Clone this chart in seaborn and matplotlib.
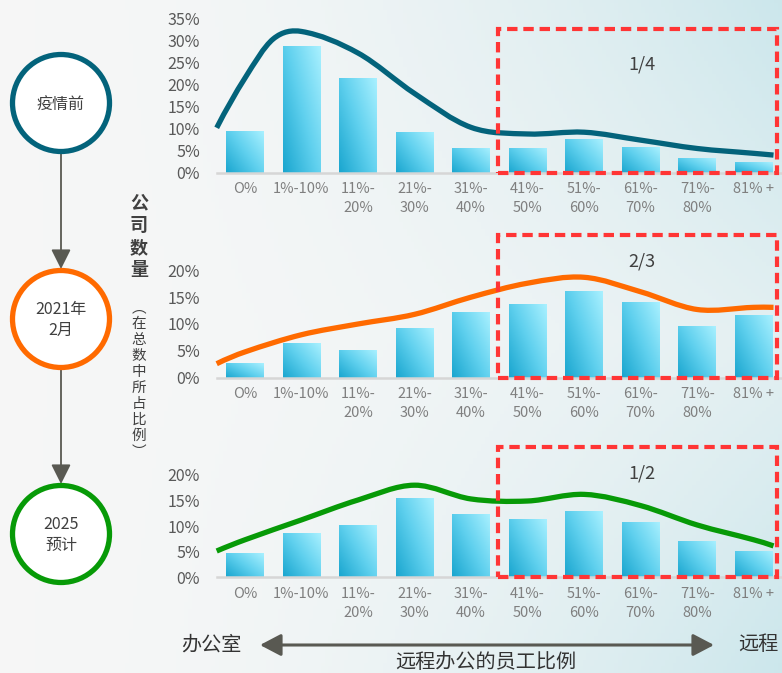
import numpy as np
import pandas as pd
import seaborn as sns
import matplotlib.pyplot as plt
from matplotlib.patches import Circle, Rectangle, PathPatch
from matplotlib.path import Path
from matplotlib.colors import LinearSegmentedColormap

# share of remote staff (x categories)
categories = ["O%", "1%-10%", "11%-\n20%", "21%-\n30%", "31%-\n40%",
              "41%-\n50%", "51%-\n60%", "61%-\n70%", "71%-\n80%", "81% +"]

# share of companies, % (bars)
pre_covid = [9.5, 28.8, 21.5, 9.2, 5.7, 5.7, 7.7, 5.8, 3.3, 2.4]
feb_2021 = [2.7, 6.5, 5.2, 9.3, 12.2, 13.7, 16.1, 14.1, 9.6, 11.7]
forecast_2025 = [4.7, 8.6, 10.2, 15.5, 12.4, 11.4, 12.9, 10.8, 7.1, 5.1]

# smoothed trend lines (x in category units)
pre_covid_x = [-0.5, 0, 0.5, 1, 2, 3, 4, 5, 6, 7, 8, 9, 9.35]
pre_covid_trend = [10.2, 21.5, 30.4, 32.1, 27.2, 18.0, 10.3, 8.8, 9.2, 7.4, 5.5, 4.4, 4.0]
curve_x = [-0.5, 0, 1, 2, 3, 4, 5, 6, 7, 8, 9, 9.35]
feb_2021_trend = [2.6, 4.8, 8.0, 10.0, 11.8, 15.0, 17.6, 18.7, 16.0, 12.7, 13.1, 13.1]
forecast_2025_trend = [5.1, 7.3, 11.2, 15.1, 18.0, 15.3, 14.9, 16.2, 14.0, 10.2, 7.3, 6.1]

box_labels = ["1/4", "2/3", "1/2"]
stage_labels = ["疫情前", "2021年\n2月", "2025\n预计"]

TEAL, ORANGE, GREEN = "#03637b", "#ff6a00", "#079a07"

sns.set_style("white")
plt.rcParams["font.family"] = ["Noto Sans CJK SC", "DejaVu Sans"]

fig = plt.figure(figsize=(7.82, 6.73), dpi=100)

# background
bg = fig.add_axes([0, 0, 1, 1])
xx, yy = np.meshgrid(np.linspace(0, 1, 200), np.linspace(0, 1, 200))
w = xx ** 2 * (0.45 + 0.55 * np.abs(yy - 0.5) * 2)
base = np.array([0.965, 0.968, 0.968])
tint = np.array([0.80, 0.905, 0.925])
img = base * (1 - w[..., None]) + tint * w[..., None]
bg.imshow(img, extent=[0, 782, 673, 0], aspect="auto", zorder=0)
bg.set_xlim(0, 782)
bg.set_ylim(673, 0)
bg.axis("off")

bar_cmap = LinearSegmentedColormap.from_list("bar", ["#1aa6cf", "#5fd0ee", "#a8f0ff"])


def smooth_path(xs, ys):
    # cubic hermite through the read points, drawn as bezier segments
    x = np.asarray(xs, float)
    y = np.asarray(ys, float)
    n = len(x)
    m = np.empty(n)
    for i in range(1, n - 1):
        m[i] = (y[i + 1] - y[i - 1]) / (x[i + 1] - x[i - 1])
    m[0] = 2 * (y[1] - y[0]) / (x[1] - x[0]) - m[1]
    m[-1] = 2 * (y[-1] - y[-2]) / (x[-1] - x[-2]) - m[-2]
    verts = [(x[0], y[0])]
    codes = [Path.MOVETO]
    for i in range(n - 1):
        d = (x[i + 1] - x[i]) / 3
        verts += [(x[i] + d, y[i] + m[i] * d),
                  (x[i + 1] - d, y[i + 1] - m[i + 1] * d),
                  (x[i + 1], y[i + 1])]
        codes += [Path.CURVE4] * 3
    return Path(verts, codes)


def panel(rect, values, tx, trend, color, ymax, ytop, label, label_y, box_top):
    ax = fig.add_axes(rect)
    ax.set_facecolor("none")
    df = pd.DataFrame({"cat": categories, "val": values})
    sns.barplot(data=df, x="cat", y="val", ax=ax, width=0.67,
                color="#5fd0ee", linewidth=0, saturation=1)
    gx, gy = np.meshgrid(np.linspace(0, 1, 50), np.linspace(0, 1, 50))
    grad = 1 - (0.55 * (1 - gx) + 0.45 * (1 - gy))
    for bar in list(ax.patches):
        x0, w0, h0 = bar.get_x(), bar.get_width(), bar.get_height()
        im = ax.imshow(grad, extent=[x0, x0 + w0, 0, h0], origin="lower",
                       cmap=bar_cmap, aspect="auto", zorder=2)
        im.set_clip_path(bar)
    ax.add_patch(PathPatch(smooth_path(tx, trend), fill=False,
                           edgecolor=color, lw=3.8, zorder=4, clip_on=False))
    ax.add_patch(Rectangle((4.48, 0), 4.93, box_top, fill=False,
                           edgecolor="#ff3535", lw=3, linestyle=(0, (2.5, 1.4)),
                           zorder=5, clip_on=False))
    ax.text(7.02, label_y, label, ha="center", va="center", fontsize=13,
            color="#404040", zorder=6)
    ax.set_xlim(-0.5, 9.5)
    ax.set_ylim(0, ytop)
    ax.set_yticks(range(0, ymax + 1, 5))
    ax.set_yticklabels([f"{v}%" for v in range(0, ymax + 1, 5)])
    ax.set_xticks(range(len(categories)))
    ax.set_xticklabels(categories, linespacing=1.45)
    ax.set_xticks(np.arange(-0.5, 10, 1), minor=True)
    ax.tick_params(axis="y", length=0, pad=12, labelsize=11.5, labelcolor="#595959")
    ax.tick_params(axis="x", which="major", length=0, pad=7, labelsize=10.5,
                   labelcolor="#7f7f7f")
    ax.tick_params(axis="x", which="minor", length=4, width=1.5, color="#d6d6d6")
    ax.set_xlabel("")
    ax.set_ylabel("")
    for s in ["left", "top", "right"]:
        ax.spines[s].set_visible(False)
    ax.spines["bottom"].set_color("#d6d6d6")
    ax.spines["bottom"].set_linewidth(1.8)
    return ax


panel([0.2771, 0.7434, 0.7229, 0.2288], pre_covid, pre_covid_x, pre_covid_trend,
      TEAL, 35, 35, box_labels[0], 24.5, 32.7)
panel([0.2771, 0.4388, 0.7229, 0.2154], feb_2021, curve_x, feb_2021_trend,
      ORANGE, 20, 27, box_labels[1], 21.6, 26.6)
panel([0.2771, 0.1426, 0.7229, 0.1971], forecast_2025, curve_x, forecast_2025_trend,
      GREEN, 20, 26, box_labels[2], 20.3, 25.5)

# stage circles on the left
centers = [(61, 103), (61, 319), (61, 534)]
for (cx, cy), col, lab in zip(centers, [TEAL, ORANGE, GREEN], stage_labels):
    bg.add_patch(Circle((cx, cy), 48.5, facecolor="white", edgecolor=col, lw=3.8, zorder=3))
    bg.text(cx, cy + 1, lab, ha="center", va="center", fontsize=11.5,
            color="#404040", linespacing=1.35, zorder=4)

for y0, y1 in [(153, 269), (370, 484)]:
    bg.annotate("", xy=(61, y1), xytext=(61, y0),
                arrowprops=dict(arrowstyle="-|>,head_length=0.8,head_width=0.4",
                                mutation_scale=15, color="#595952", lw=1.3,
                                shrinkA=0, shrinkB=0), zorder=2)

# vertical y-axis title
for i, ch in enumerate("公司数量"):
    bg.text(139, 203 + i * 22.3, ch, ha="center", va="center", fontsize=13,
            fontweight="bold", color="#404040")
for i, ch in enumerate("︵在总数中所占比例︶"):
    bg.text(139, 308 + i * 16, ch, ha="center", va="center", fontsize=10.5,
            color="#404040")

# bottom axis annotation
bg.annotate("", xy=(714, 645), xytext=(260, 645),
            arrowprops=dict(arrowstyle="<|-|>,head_length=0.8,head_width=0.42",
                            mutation_scale=16, color="#595952", lw=2.2,
                            shrinkA=0, shrinkB=0))
bg.text(211, 645, "办公室", ha="center", va="center", fontsize=14.5, color="#333333")
bg.text(758, 645, "远程", ha="center", va="center", fontsize=14.5, color="#333333")
bg.text(486, 662, "远程办公的员工比例", ha="center", va="center", fontsize=14.5,
        color="#333333")

fig.savefig("out.png", dpi=100)
